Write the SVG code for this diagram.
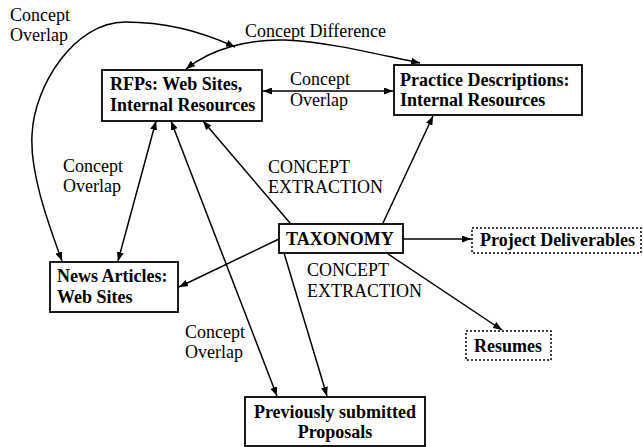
<svg xmlns="http://www.w3.org/2000/svg" width="643" height="447" viewBox="0 0 643 447">
<style>
.box{fill:#fff;stroke:#000;stroke-width:1.8}
.dot{fill:#fff;stroke:#000;stroke-width:1.5;stroke-dasharray:2 2}
.bt{font-family:"Liberation Serif",serif;font-weight:bold;font-size:18px;fill:#000}
.lb{font-family:"Liberation Serif",serif;font-size:18px;fill:#000}
.c{fill:none;stroke:#000;stroke-width:1.5}
</style>
<defs>
<marker id="ah" markerUnits="userSpaceOnUse" markerWidth="9" markerHeight="7" refX="9" refY="3.5" orient="auto-start-reverse">
<path d="M0,0 L9,3.5 L0,7 z" fill="#000"/>
</marker>
</defs>
<rect width="643" height="447" fill="#fff"/>
<g id="connectors">
<path class="c" d="M62,261 C45,215 30,170 32,135 C34,85 75,22 125,22 C170,22 205,33 235,47" marker-start="url(#ah)" marker-end="url(#ah)"/>
<path class="c" d="M186,69 C212,48 250,39 285,40 C330,42 380,55 420,63" marker-start="url(#ah)" marker-end="url(#ah)"/>
<line class="c" x1="263" y1="91" x2="393" y2="91" marker-start="url(#ah)" marker-end="url(#ah)"/>
<line class="c" x1="156" y1="121" x2="118" y2="261" marker-start="url(#ah)" marker-end="url(#ah)"/>
<line class="c" x1="171" y1="121" x2="277" y2="396" marker-start="url(#ah)" marker-end="url(#ah)"/>
<line class="c" x1="290" y1="223" x2="203" y2="121" marker-end="url(#ah)"/>
<line class="c" x1="383" y1="223" x2="433" y2="116" marker-end="url(#ah)"/>
<line class="c" x1="279" y1="239" x2="179" y2="287" marker-end="url(#ah)"/>
<line class="c" x1="284" y1="253" x2="327" y2="396" marker-end="url(#ah)"/>
<line class="c" x1="403" y1="239" x2="471" y2="239" marker-end="url(#ah)"/>
<line class="c" x1="388" y1="254" x2="502" y2="330" marker-end="url(#ah)"/>
</g>
<g id="labels">
<text class="lb" x="10" y="21">Concept</text>
<text class="lb" x="10" y="41">Overlap</text>
<text class="lb" x="245" y="37">Concept Difference</text>
<text class="lb" x="290" y="85">Concept</text>
<text class="lb" x="290" y="106">Overlap</text>
<text class="lb" x="63" y="172">Concept</text>
<text class="lb" x="63" y="192">Overlap</text>
<text class="lb" x="268" y="173">CONCEPT</text>
<text class="lb" x="268" y="193">EXTRACTION</text>
<text class="lb" x="307" y="276">CONCEPT</text>
<text class="lb" x="307" y="297">EXTRACTION</text>
<text class="lb" x="185" y="338">Concept</text>
<text class="lb" x="185" y="358">Overlap</text>
</g>
<g id="rfps">
<rect class="box" x="102" y="70" width="160" height="51"/>
<text class="bt" x="110" y="90">RFPs: Web Sites,</text>
<text class="bt" x="110" y="111">Internal Resources</text>
</g>
<g id="practice">
<rect class="box" x="394" y="65" width="188" height="50"/>
<text class="bt" x="400" y="86">Practice Descriptions:</text>
<text class="bt" x="400" y="106">Internal Resources</text>
</g>
<g id="news">
<rect class="box" x="50" y="262" width="128" height="50"/>
<text class="bt" x="57" y="282">News Articles:</text>
<text class="bt" x="57" y="303">Web Sites</text>
</g>
<g id="taxonomy">
<rect class="box" x="279" y="224" width="124" height="29"/>
<text class="bt" x="286" y="245">TAXONOMY</text>
</g>
<g id="deliverables">
<rect class="dot" x="472" y="228" width="169" height="25"/>
<text class="bt" x="480" y="246">Project Deliverables</text>
</g>
<g id="resumes">
<rect class="dot" x="466" y="331" width="85" height="29"/>
<text class="bt" x="474" y="352">Resumes</text>
</g>
<g id="proposals">
<rect class="box" x="245" y="397" width="180" height="49"/>
<text class="bt" x="335" y="418" text-anchor="middle">Previously submitted</text>
<text class="bt" x="335" y="438" text-anchor="middle">Proposals</text>
</g>
</svg>
